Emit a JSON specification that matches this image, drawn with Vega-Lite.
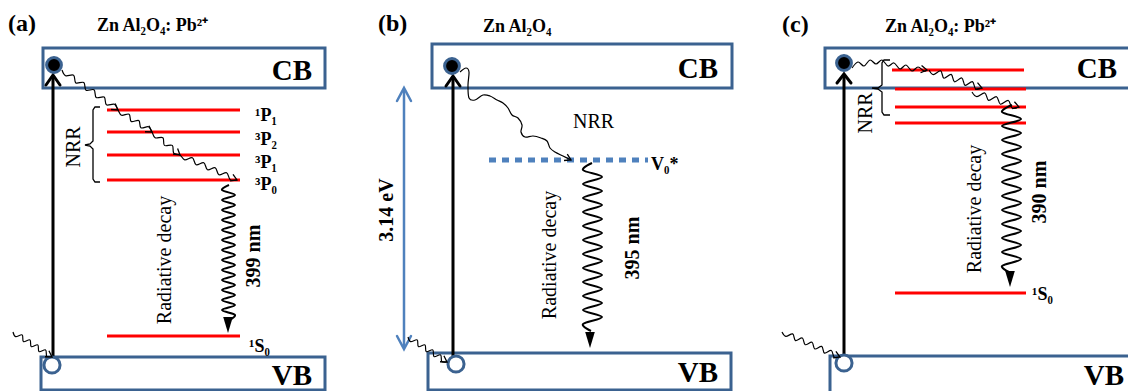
{
  "$schema": "https://vega.github.io/schema/vega-lite/v6.json",
  "width": 1128,
  "height": 391,
  "autosize": {"type": "fit", "contains": "padding"},
  "padding": 0,
  "background": "white",
  "config": {"view": {"stroke": null}},
  "datasets": {
    "boxes": [
      {"x": 43, "x2": 325, "y": 48, "y2": 88},
      {"x": 41, "x2": 325, "y": 357, "y2": 390},
      {"x": 432, "x2": 732, "y": 44, "y2": 88},
      {"x": 428, "x2": 731, "y": 353, "y2": 390},
      {"x": 825, "x2": 1140, "y": 48, "y2": 88},
      {"x": 830, "x2": 1140, "y": 356, "y2": 400}
    ],
    "levels": [
      {"x": 107, "x2": 240, "y": 110},
      {"x": 107, "x2": 240, "y": 132},
      {"x": 107, "x2": 240, "y": 155},
      {"x": 107, "x2": 240, "y": 180},
      {"x": 107, "x2": 240, "y": 336},
      {"x": 892, "x2": 1024, "y": 70},
      {"x": 895, "x2": 1026, "y": 89},
      {"x": 895, "x2": 1026, "y": 107},
      {"x": 895, "x2": 1026, "y": 123},
      {"x": 895, "x2": 1026, "y": 293}
    ],
    "v0": [{"x": 489, "x2": 648, "y": 160}],
    "vert": [
      {"x": 53, "y": 76, "y2": 357},
      {"x": 453, "y": 76, "y2": 358},
      {"x": 844, "y": 74, "y2": 357}
    ],
    "blueAx": [{"x": 404, "y": 89, "y2": 348}],
    "chevK": [
      {"id": "a", "o": 0, "x": 46, "y": 85}, {"id": "a", "o": 1, "x": 53, "y": 75}, {"id": "a", "o": 2, "x": 60, "y": 85},
      {"id": "b", "o": 0, "x": 446, "y": 86}, {"id": "b", "o": 1, "x": 453, "y": 76}, {"id": "b", "o": 2, "x": 460, "y": 86},
      {"id": "c", "o": 0, "x": 837, "y": 83}, {"id": "c", "o": 1, "x": 844, "y": 74}, {"id": "c", "o": 2, "x": 851, "y": 83}
    ],
    "chevB": [
      {"id": "t", "o": 0, "x": 397, "y": 101}, {"id": "t", "o": 1, "x": 404, "y": 88}, {"id": "t", "o": 2, "x": 411, "y": 101},
      {"id": "b", "o": 0, "x": 397, "y": 336}, {"id": "b", "o": 1, "x": 404, "y": 349}, {"id": "b", "o": 2, "x": 411, "y": 336}
    ],
    "wig": [
      {"id": "an", "o": 0, "x": 62, "y": 70}, {"id": "an", "o": 1, "x": 65.6, "y": 75.7}, {"id": "an", "o": 2, "x": 73.6, "y": 75.2},
      {"id": "an", "o": 3, "x": 75.8, "y": 82.9}, {"id": "an", "o": 4, "x": 83.8, "y": 82.5}, {"id": "an", "o": 5, "x": 86, "y": 90.2},
      {"id": "an", "o": 6, "x": 94, "y": 89.8}, {"id": "an", "o": 7, "x": 96.2, "y": 97.5}, {"id": "an", "o": 8, "x": 104.2, "y": 97.1},
      {"id": "an", "o": 9, "x": 106.4, "y": 104.8}, {"id": "an", "o": 10, "x": 114.4, "y": 104.3}, {"id": "an", "o": 11, "x": 118, "y": 110},
      {"id": "an", "o": 12, "x": 121.5, "y": 115.2}, {"id": "an", "o": 13, "x": 129.1, "y": 114.2}, {"id": "an", "o": 14, "x": 131.2, "y": 121.5},
      {"id": "an", "o": 15, "x": 138.8, "y": 120.5}, {"id": "an", "o": 16, "x": 140.9, "y": 127.8}, {"id": "an", "o": 17, "x": 148.5, "y": 126.8},
      {"id": "an", "o": 18, "x": 152, "y": 132}, {"id": "an", "o": 19, "x": 155.1, "y": 137.8}, {"id": "an", "o": 20, "x": 162.9, "y": 137.7},
      {"id": "an", "o": 21, "x": 164.4, "y": 145.4}, {"id": "an", "o": 22, "x": 172.3, "y": 145.4}, {"id": "an", "o": 23, "x": 173.7, "y": 153.1},
      {"id": "an", "o": 24, "x": 180, "y": 155}, {"id": "an", "o": 25, "x": 184.7, "y": 159.8}, {"id": "an", "o": 26, "x": 192.4, "y": 157.7},
      {"id": "an", "o": 27, "x": 196.1, "y": 164.8}, {"id": "an", "o": 28, "x": 203.8, "y": 162.7}, {"id": "an", "o": 29, "x": 207.5, "y": 169.8},
      {"id": "an", "o": 30, "x": 215.2, "y": 167.7}, {"id": "an", "o": 31, "x": 218.9, "y": 174.8}, {"id": "an", "o": 32, "x": 226.6, "y": 172.7},
      {"id": "an", "o": 33, "x": 230.3, "y": 179.8}, {"id": "an", "o": 34, "x": 237, "y": 180},
      {"id": "bn", "o": 0, "x": 460, "y": 72}, {"id": "bn", "o": 1, "x": 466, "y": 68}, {"id": "bn", "o": 2, "x": 469, "y": 72},
      {"id": "bn", "o": 3, "x": 468, "y": 85}, {"id": "bn", "o": 4, "x": 469, "y": 98}, {"id": "bn", "o": 5, "x": 475, "y": 100},
      {"id": "bn", "o": 6, "x": 483, "y": 95}, {"id": "bn", "o": 7, "x": 490, "y": 96}, {"id": "bn", "o": 8, "x": 497, "y": 100},
      {"id": "bn", "o": 9, "x": 503, "y": 103}, {"id": "bn", "o": 10, "x": 508, "y": 108}, {"id": "bn", "o": 11, "x": 512, "y": 115},
      {"id": "bn", "o": 12, "x": 518, "y": 118}, {"id": "bn", "o": 13, "x": 522, "y": 125}, {"id": "bn", "o": 14, "x": 521, "y": 132},
      {"id": "bn", "o": 15, "x": 525, "y": 137}, {"id": "bn", "o": 16, "x": 533, "y": 136}, {"id": "bn", "o": 17, "x": 541, "y": 138},
      {"id": "bn", "o": 18, "x": 547, "y": 141}, {"id": "bn", "o": 19, "x": 550, "y": 148}, {"id": "bn", "o": 20, "x": 555, "y": 152},
      {"id": "bn", "o": 21, "x": 563, "y": 156}, {"id": "bn", "o": 22, "x": 571, "y": 160},
      {"id": "c1", "o": 0, "x": 852, "y": 68}, {"id": "c1", "o": 1, "x": 858, "y": 62}, {"id": "c1", "o": 2, "x": 864, "y": 66},
      {"id": "c1", "o": 3, "x": 870, "y": 60}, {"id": "c1", "o": 4, "x": 876, "y": 64}, {"id": "c1", "o": 5, "x": 882, "y": 60},
      {"id": "c1", "o": 6, "x": 888, "y": 66}, {"id": "c1", "o": 7, "x": 894, "y": 63}, {"id": "c1", "o": 8, "x": 900, "y": 69},
      {"id": "c1", "o": 9, "x": 906, "y": 65}, {"id": "c1", "o": 10, "x": 912, "y": 71}, {"id": "c1", "o": 11, "x": 918, "y": 67},
      {"id": "c1", "o": 12, "x": 924, "y": 71}, {"id": "c1", "o": 13, "x": 927, "y": 70},
      {"id": "c2", "o": 0, "x": 929, "y": 70}, {"id": "c2", "o": 1, "x": 933.3, "y": 74.6}, {"id": "c2", "o": 2, "x": 940.6, "y": 70.8},
      {"id": "c2", "o": 3, "x": 943.9, "y": 78.2}, {"id": "c2", "o": 4, "x": 951.2, "y": 74.4}, {"id": "c2", "o": 5, "x": 954.5, "y": 81.8},
      {"id": "c2", "o": 6, "x": 961.8, "y": 78}, {"id": "c2", "o": 7, "x": 965.1, "y": 85.4}, {"id": "c2", "o": 8, "x": 972.4, "y": 81.6},
      {"id": "c2", "o": 9, "x": 975.7, "y": 89}, {"id": "c2", "o": 10, "x": 982, "y": 88},
      {"id": "c3", "o": 0, "x": 972, "y": 92}, {"id": "c3", "o": 1, "x": 976.9, "y": 96.7}, {"id": "c3", "o": 2, "x": 984.8, "y": 93},
      {"id": "c3", "o": 3, "x": 988.6, "y": 100.4}, {"id": "c3", "o": 4, "x": 996.5, "y": 96.7}, {"id": "c3", "o": 5, "x": 1000.4, "y": 104.2},
      {"id": "c3", "o": 6, "x": 1008.3, "y": 100.5}, {"id": "c3", "o": 7, "x": 1012.1, "y": 107.9}, {"id": "c3", "o": 8, "x": 1019, "y": 107},
      {"id": "ai", "o": 0, "x": 13, "y": 332}, {"id": "ai", "o": 1, "x": 15.6, "y": 336.6}, {"id": "ai", "o": 2, "x": 22.2, "y": 334.9},
      {"id": "ai", "o": 3, "x": 23.4, "y": 341.6}, {"id": "ai", "o": 4, "x": 30, "y": 339.9}, {"id": "ai", "o": 5, "x": 31.2, "y": 346.6},
      {"id": "ai", "o": 6, "x": 37.8, "y": 344.9}, {"id": "ai", "o": 7, "x": 39, "y": 351.6}, {"id": "ai", "o": 8, "x": 45.6, "y": 349.9},
      {"id": "ai", "o": 9, "x": 46.8, "y": 356.6}, {"id": "ai", "o": 10, "x": 52, "y": 357},
      {"id": "bi", "o": 0, "x": 408, "y": 337}, {"id": "bi", "o": 1, "x": 410.6, "y": 341.6}, {"id": "bi", "o": 2, "x": 417.2, "y": 339.9},
      {"id": "bi", "o": 3, "x": 418.4, "y": 346.6}, {"id": "bi", "o": 4, "x": 425, "y": 344.9}, {"id": "bi", "o": 5, "x": 426.2, "y": 351.6},
      {"id": "bi", "o": 6, "x": 432.8, "y": 349.9}, {"id": "bi", "o": 7, "x": 434, "y": 356.6}, {"id": "bi", "o": 8, "x": 440.6, "y": 354.9},
      {"id": "bi", "o": 9, "x": 441.8, "y": 361.6}, {"id": "bi", "o": 10, "x": 447, "y": 362},
      {"id": "ci", "o": 0, "x": 782, "y": 332}, {"id": "ci", "o": 1, "x": 785.8, "y": 336.4}, {"id": "ci", "o": 2, "x": 792.7, "y": 333.9},
      {"id": "ci", "o": 3, "x": 795.5, "y": 340.6}, {"id": "ci", "o": 4, "x": 802.3, "y": 338}, {"id": "ci", "o": 5, "x": 805.2, "y": 344.7},
      {"id": "ci", "o": 6, "x": 812, "y": 342.2}, {"id": "ci", "o": 7, "x": 814.8, "y": 348.9}, {"id": "ci", "o": 8, "x": 821.7, "y": 346.4},
      {"id": "ci", "o": 9, "x": 824.5, "y": 353.1}, {"id": "ci", "o": 10, "x": 831.3, "y": 350.5}, {"id": "ci", "o": 11, "x": 834.2, "y": 357.2},
      {"id": "ci", "o": 12, "x": 840, "y": 357}
    ],
    "decay": [
      {"id": "a", "o": 0, "x": 229, "y": 185}, {"id": "a", "o": 1, "x": 222, "y": 190}, {"id": "a", "o": 2, "x": 235, "y": 195},
      {"id": "a", "o": 3, "x": 222, "y": 200}, {"id": "a", "o": 4, "x": 235, "y": 205}, {"id": "a", "o": 5, "x": 222, "y": 210},
      {"id": "a", "o": 6, "x": 235, "y": 215}, {"id": "a", "o": 7, "x": 222, "y": 220}, {"id": "a", "o": 8, "x": 235, "y": 225},
      {"id": "a", "o": 9, "x": 222, "y": 230}, {"id": "a", "o": 10, "x": 235, "y": 235}, {"id": "a", "o": 11, "x": 222, "y": 240},
      {"id": "a", "o": 12, "x": 235, "y": 245}, {"id": "a", "o": 13, "x": 222, "y": 250}, {"id": "a", "o": 14, "x": 235, "y": 255},
      {"id": "a", "o": 15, "x": 222, "y": 260}, {"id": "a", "o": 16, "x": 235, "y": 265}, {"id": "a", "o": 17, "x": 222, "y": 270},
      {"id": "a", "o": 18, "x": 235, "y": 275}, {"id": "a", "o": 19, "x": 222, "y": 280}, {"id": "a", "o": 20, "x": 235, "y": 285},
      {"id": "a", "o": 21, "x": 222, "y": 290}, {"id": "a", "o": 22, "x": 235, "y": 295}, {"id": "a", "o": 23, "x": 222, "y": 300},
      {"id": "a", "o": 24, "x": 235, "y": 305}, {"id": "a", "o": 25, "x": 222, "y": 310}, {"id": "a", "o": 26, "x": 235, "y": 315},
      {"id": "a", "o": 27, "x": 228, "y": 321},
      {"id": "b", "o": 0, "x": 592, "y": 163}, {"id": "b", "o": 1, "x": 583, "y": 170}, {"id": "b", "o": 2, "x": 602, "y": 177},
      {"id": "b", "o": 3, "x": 583, "y": 184}, {"id": "b", "o": 4, "x": 602, "y": 191}, {"id": "b", "o": 5, "x": 583, "y": 198},
      {"id": "b", "o": 6, "x": 602, "y": 205}, {"id": "b", "o": 7, "x": 583, "y": 212}, {"id": "b", "o": 8, "x": 602, "y": 219},
      {"id": "b", "o": 9, "x": 583, "y": 226}, {"id": "b", "o": 10, "x": 602, "y": 233}, {"id": "b", "o": 11, "x": 583, "y": 240},
      {"id": "b", "o": 12, "x": 602, "y": 247}, {"id": "b", "o": 13, "x": 583, "y": 254}, {"id": "b", "o": 14, "x": 602, "y": 261},
      {"id": "b", "o": 15, "x": 583, "y": 268}, {"id": "b", "o": 16, "x": 602, "y": 275}, {"id": "b", "o": 17, "x": 583, "y": 282},
      {"id": "b", "o": 18, "x": 602, "y": 289}, {"id": "b", "o": 19, "x": 583, "y": 296}, {"id": "b", "o": 20, "x": 602, "y": 303},
      {"id": "b", "o": 21, "x": 583, "y": 310}, {"id": "b", "o": 22, "x": 602, "y": 317}, {"id": "b", "o": 23, "x": 583, "y": 324},
      {"id": "b", "o": 24, "x": 591, "y": 331},
      {"id": "c", "o": 0, "x": 1012, "y": 105}, {"id": "c", "o": 1, "x": 1002, "y": 112}, {"id": "c", "o": 2, "x": 1021, "y": 119},
      {"id": "c", "o": 3, "x": 1002, "y": 126}, {"id": "c", "o": 4, "x": 1021, "y": 133}, {"id": "c", "o": 5, "x": 1002, "y": 140},
      {"id": "c", "o": 6, "x": 1021, "y": 147}, {"id": "c", "o": 7, "x": 1002, "y": 154}, {"id": "c", "o": 8, "x": 1021, "y": 161},
      {"id": "c", "o": 9, "x": 1002, "y": 168}, {"id": "c", "o": 10, "x": 1021, "y": 175}, {"id": "c", "o": 11, "x": 1002, "y": 182},
      {"id": "c", "o": 12, "x": 1021, "y": 189}, {"id": "c", "o": 13, "x": 1002, "y": 196}, {"id": "c", "o": 14, "x": 1021, "y": 203},
      {"id": "c", "o": 15, "x": 1002, "y": 210}, {"id": "c", "o": 16, "x": 1021, "y": 217}, {"id": "c", "o": 17, "x": 1002, "y": 224},
      {"id": "c", "o": 18, "x": 1021, "y": 231}, {"id": "c", "o": 19, "x": 1002, "y": 238}, {"id": "c", "o": 20, "x": 1021, "y": 245},
      {"id": "c", "o": 21, "x": 1002, "y": 252}, {"id": "c", "o": 22, "x": 1021, "y": 259}, {"id": "c", "o": 23, "x": 1002, "y": 266},
      {"id": "c", "o": 24, "x": 1011, "y": 273}
    ],
    "brace": [
      {"id": "a", "o": 0, "x": 100, "y": 107}, {"id": "a", "o": 1, "x": 95, "y": 107}, {"id": "a", "o": 2, "x": 93, "y": 110},
      {"id": "a", "o": 3, "x": 93, "y": 141}, {"id": "a", "o": 4, "x": 90, "y": 144}, {"id": "a", "o": 5, "x": 85, "y": 145},
      {"id": "a", "o": 6, "x": 90, "y": 146}, {"id": "a", "o": 7, "x": 93, "y": 149}, {"id": "a", "o": 8, "x": 93, "y": 179},
      {"id": "a", "o": 9, "x": 95, "y": 182}, {"id": "a", "o": 10, "x": 100, "y": 182},
      {"id": "c", "o": 0, "x": 890, "y": 60}, {"id": "c", "o": 1, "x": 884, "y": 60}, {"id": "c", "o": 2, "x": 882, "y": 63},
      {"id": "c", "o": 3, "x": 882, "y": 85}, {"id": "c", "o": 4, "x": 878, "y": 88}, {"id": "c", "o": 5, "x": 872, "y": 88},
      {"id": "c", "o": 6, "x": 878, "y": 89}, {"id": "c", "o": 7, "x": 882, "y": 92}, {"id": "c", "o": 8, "x": 882, "y": 112},
      {"id": "c", "o": 9, "x": 884, "y": 115}, {"id": "c", "o": 10, "x": 890, "y": 115}
    ],
    "electrons": [{"x": 54, "y": 65}, {"x": 452, "y": 66}, {"x": 844, "y": 63}],
    "holes": [{"x": 52, "y": 365}, {"x": 456, "y": 364}, {"x": 844, "y": 363}],
    "tri": [{"x": 228, "y": 325}, {"x": 590, "y": 340}, {"x": 1010, "y": 279}],
    "heads": [
      {"x": 118, "y": 110, "dir": 125}, {"x": 152, "y": 132, "dir": 123}, {"x": 180, "y": 155, "dir": 129}, {"x": 237, "y": 180, "dir": 114},
      {"x": 571, "y": 160, "dir": 117}, {"x": 52, "y": 357, "dir": 123}, {"x": 447, "y": 362, "dir": 123},
      {"x": 927, "y": 70, "dir": 98}, {"x": 982, "y": 88, "dir": 109}, {"x": 1019, "y": 107, "dir": 108}, {"x": 840, "y": 357, "dir": 113}
    ],
    "panelLab": [{"x": 8, "y": 31, "t": "(a)"}, {"x": 378, "y": 31, "t": "(b)"}, {"x": 782, "y": 32, "t": "(c)"}],
    "titles": [{"x": 97, "y": 31, "t": "Zn Al₂O₄: Pb²⁺"}, {"x": 483, "y": 32, "t": "Zn Al₂O₄"}, {"x": 885, "y": 32, "t": "Zn Al₂O₄: Pb²⁺"}],
    "bands": [
      {"x": 312, "y": 80, "t": "CB"}, {"x": 312, "y": 385, "t": "VB"},
      {"x": 718, "y": 78, "t": "CB"}, {"x": 718, "y": 382, "t": "VB"},
      {"x": 1117, "y": 78, "t": "CB"}, {"x": 1124, "y": 385, "t": "VB"}
    ],
    "levLab": [
      {"x": 255, "y": 121, "t": "¹P₁"}, {"x": 255, "y": 145, "t": "³P₂"}, {"x": 255, "y": 168, "t": "³P₁"},
      {"x": 255, "y": 190, "t": "³P₀"}, {"x": 249, "y": 352, "t": "¹S₀"}, {"x": 1032, "y": 300, "t": "¹S₀"},
      {"x": 651, "y": 170, "t": "V₀*"}
    ],
    "nrrH": [{"x": 573, "y": 128, "t": "NRR"}],
    "rotN": [
      {"x": 74, "y": 147, "t": "NRR"}, {"x": 866, "y": 113, "t": "NRR"},
      {"x": 165, "y": 260, "t": "Radiative decay"}, {"x": 550, "y": 255, "t": "Radiative decay"}, {"x": 975, "y": 209, "t": "Radiative decay"}
    ],
    "rotB": [
      {"x": 254, "y": 256, "t": "399 nm"}, {"x": 633, "y": 248, "t": "395 nm"}, {"x": 1040, "y": 192, "t": "390 nm"}, {"x": 387, "y": 210, "t": "3.14 eV"}
    ]
  },
  "layer": [
    {
      "data": {"name": "boxes"},
      "mark": {"type": "rect", "fill": "white", "stroke": "#3b6290", "strokeWidth": 3, "clip": true},
      "encoding": {
        "x": {"field": "x", "type": "quantitative", "scale": {"domain": [0, 1128], "nice": false, "zero": false}, "axis": null},
        "x2": {"field": "x2"},
        "y": {"field": "y", "type": "quantitative", "scale": {"domain": [0, 391], "nice": false, "zero": false, "reverse": true}, "axis": null},
        "y2": {"field": "y2"}
      }
    },
    {
      "data": {"name": "levels"},
      "mark": {"type": "rule", "color": "#ff0000", "strokeWidth": 3},
      "encoding": {
        "x": {"field": "x", "type": "quantitative", "axis": null},
        "x2": {"field": "x2"},
        "y": {"field": "y", "type": "quantitative", "axis": null}
      }
    },
    {
      "data": {"name": "v0"},
      "mark": {"type": "rule", "color": "#4f81bd", "strokeWidth": 5, "strokeDash": [7, 6]},
      "encoding": {
        "x": {"field": "x", "type": "quantitative", "axis": null},
        "x2": {"field": "x2"},
        "y": {"field": "y", "type": "quantitative", "axis": null}
      }
    },
    {
      "data": {"name": "vert"},
      "mark": {"type": "rule", "color": "black", "strokeWidth": 3},
      "encoding": {
        "x": {"field": "x", "type": "quantitative", "axis": null},
        "y": {"field": "y", "type": "quantitative", "axis": null},
        "y2": {"field": "y2"}
      }
    },
    {
      "data": {"name": "blueAx"},
      "mark": {"type": "rule", "color": "#4f81bd", "strokeWidth": 2.5},
      "encoding": {
        "x": {"field": "x", "type": "quantitative", "axis": null},
        "y": {"field": "y", "type": "quantitative", "axis": null},
        "y2": {"field": "y2"}
      }
    },
    {
      "data": {"name": "chevK"},
      "mark": {"type": "line", "color": "black", "strokeWidth": 3, "strokeCap": "round"},
      "encoding": {
        "x": {"field": "x", "type": "quantitative", "axis": null},
        "y": {"field": "y", "type": "quantitative", "axis": null},
        "detail": {"field": "id"},
        "order": {"field": "o", "type": "quantitative"}
      }
    },
    {
      "data": {"name": "chevB"},
      "mark": {"type": "line", "color": "#4f81bd", "strokeWidth": 2.5, "strokeCap": "round"},
      "encoding": {
        "x": {"field": "x", "type": "quantitative", "axis": null},
        "y": {"field": "y", "type": "quantitative", "axis": null},
        "detail": {"field": "id"},
        "order": {"field": "o", "type": "quantitative"}
      }
    },
    {
      "data": {"name": "wig"},
      "mark": {"type": "line", "color": "black", "strokeWidth": 1.2, "interpolate": "cardinal"},
      "encoding": {
        "x": {"field": "x", "type": "quantitative", "axis": null},
        "y": {"field": "y", "type": "quantitative", "axis": null},
        "detail": {"field": "id"},
        "order": {"field": "o", "type": "quantitative"}
      }
    },
    {
      "data": {"name": "decay"},
      "mark": {"type": "line", "color": "black", "strokeWidth": 2, "interpolate": "cardinal"},
      "encoding": {
        "x": {"field": "x", "type": "quantitative", "axis": null},
        "y": {"field": "y", "type": "quantitative", "axis": null},
        "detail": {"field": "id"},
        "order": {"field": "o", "type": "quantitative"}
      }
    },
    {
      "data": {"name": "brace"},
      "mark": {"type": "line", "color": "black", "strokeWidth": 1.3},
      "encoding": {
        "x": {"field": "x", "type": "quantitative", "axis": null},
        "y": {"field": "y", "type": "quantitative", "axis": null},
        "detail": {"field": "id"},
        "order": {"field": "o", "type": "quantitative"}
      }
    },
    {
      "data": {"name": "electrons"},
      "mark": {"type": "point", "shape": "circle", "filled": true, "fill": "black", "stroke": "#3b6290", "strokeWidth": 3, "size": 220, "opacity": 1},
      "encoding": {
        "x": {"field": "x", "type": "quantitative", "axis": null},
        "y": {"field": "y", "type": "quantitative", "axis": null}
      }
    },
    {
      "data": {"name": "holes"},
      "mark": {"type": "point", "shape": "circle", "filled": true, "fill": "white", "stroke": "#3b6290", "strokeWidth": 3, "size": 260, "opacity": 1},
      "encoding": {
        "x": {"field": "x", "type": "quantitative", "axis": null},
        "y": {"field": "y", "type": "quantitative", "axis": null}
      }
    },
    {
      "data": {"name": "tri"},
      "mark": {"type": "point", "shape": "M-0.6,-1L0.6,-1L0,1Z", "filled": true, "color": "black", "size": 256, "opacity": 1},
      "encoding": {
        "x": {"field": "x", "type": "quantitative", "axis": null},
        "y": {"field": "y", "type": "quantitative", "axis": null}
      }
    },
    {
      "data": {"name": "heads"},
      "mark": {"type": "point", "shape": "M-0.6,1L0,0L0.6,1", "filled": false, "color": "black", "strokeWidth": 1.3, "size": 144, "opacity": 1},
      "encoding": {
        "x": {"field": "x", "type": "quantitative", "axis": null},
        "y": {"field": "y", "type": "quantitative", "axis": null},
        "angle": {"field": "dir", "type": "quantitative", "scale": null}
      }
    },
    {
      "data": {"name": "panelLab"},
      "mark": {"type": "text", "font": "Liberation Serif", "fontWeight": "bold", "fontSize": 24, "align": "left", "baseline": "alphabetic", "color": "black"},
      "encoding": {
        "x": {"field": "x", "type": "quantitative", "axis": null},
        "y": {"field": "y", "type": "quantitative", "axis": null},
        "text": {"field": "t"}
      }
    },
    {
      "data": {"name": "titles"},
      "mark": {"type": "text", "font": "Liberation Serif", "fontWeight": "bold", "fontSize": 18, "align": "left", "baseline": "alphabetic", "color": "black"},
      "encoding": {
        "x": {"field": "x", "type": "quantitative", "axis": null},
        "y": {"field": "y", "type": "quantitative", "axis": null},
        "text": {"field": "t"}
      }
    },
    {
      "data": {"name": "bands"},
      "mark": {"type": "text", "font": "Liberation Serif", "fontWeight": "bold", "fontSize": 29, "align": "right", "baseline": "alphabetic", "color": "black"},
      "encoding": {
        "x": {"field": "x", "type": "quantitative", "axis": null},
        "y": {"field": "y", "type": "quantitative", "axis": null},
        "text": {"field": "t"}
      }
    },
    {
      "data": {"name": "levLab"},
      "mark": {"type": "text", "font": "Liberation Serif", "fontWeight": "bold", "fontSize": 18, "align": "left", "baseline": "alphabetic", "color": "black"},
      "encoding": {
        "x": {"field": "x", "type": "quantitative", "axis": null},
        "y": {"field": "y", "type": "quantitative", "axis": null},
        "text": {"field": "t"}
      }
    },
    {
      "data": {"name": "nrrH"},
      "mark": {"type": "text", "font": "Liberation Serif", "fontSize": 20, "align": "left", "baseline": "alphabetic", "color": "black"},
      "encoding": {
        "x": {"field": "x", "type": "quantitative", "axis": null},
        "y": {"field": "y", "type": "quantitative", "axis": null},
        "text": {"field": "t"}
      }
    },
    {
      "data": {"name": "rotN"},
      "mark": {"type": "text", "font": "Liberation Serif", "fontSize": 20, "angle": 270, "align": "center", "baseline": "middle", "color": "black"},
      "encoding": {
        "x": {"field": "x", "type": "quantitative", "axis": null},
        "y": {"field": "y", "type": "quantitative", "axis": null},
        "text": {"field": "t"}
      }
    },
    {
      "data": {"name": "rotB"},
      "mark": {"type": "text", "font": "Liberation Serif", "fontWeight": "bold", "fontSize": 20, "angle": 270, "align": "center", "baseline": "middle", "color": "black"},
      "encoding": {
        "x": {"field": "x", "type": "quantitative", "axis": null},
        "y": {"field": "y", "type": "quantitative", "axis": null},
        "text": {"field": "t"}
      }
    }
  ]
}
